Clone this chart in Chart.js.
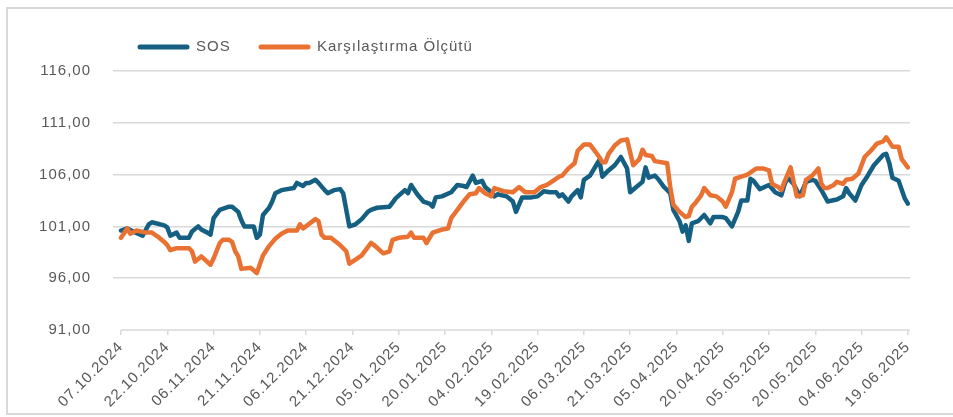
<!DOCTYPE html>
<html>
<head>
<meta charset="utf-8">
<script src="https://cdn.jsdelivr.net/npm/chart.js@4.4.1/dist/chart.umd.min.js"></script>
<style>
  html, body { margin: 0; padding: 0; background: #fff; }
  canvas { display: block; }
</style>
</head>
<body>
<canvas id="chart" width="953" height="417"></canvas>
<script>
// x axis labels, one every 15 days starting 07.10.2024
const tickLabels = ['07.10.2024', '22.10.2024', '06.11.2024', '21.11.2024', '06.12.2024', '21.12.2024',
  '05.01.2025', '20.01.2025', '04.02.2025', '19.02.2025', '06.03.2025', '21.03.2025',
  '05.04.2025', '20.04.2025', '05.05.2025', '20.05.2025', '04.06.2025', '19.06.2025'];

const seriesNames = ['SOS', 'Karşılaştırma Ölçütü'];

// days since 07.10.2024
const sosDays = [0, 2, 4, 7, 9, 10, 14, 15, 16, 18, 19, 22, 23, 25, 26, 28, 29, 30, 32, 35, 36, 38, 39, 40, 43, 44, 45, 46, 48, 49,
  50, 52, 56, 57, 59, 60, 61, 63, 64, 66, 67, 69, 71, 72, 74, 76, 78, 80, 81, 83, 87, 88, 89, 92, 93, 94, 96, 98, 100, 101,
  102, 104, 107, 109, 111, 112, 114, 115, 117, 118, 120, 121, 122, 125, 127, 128, 130, 133, 135, 137, 139, 141, 142, 143, 145, 146, 148, 149, 150, 152,
  154, 155, 156, 158, 160, 162, 164, 165, 167, 169, 170, 171, 173, 174, 176, 178, 179, 181, 182, 183, 184, 185, 187, 189, 191, 192, 195, 196, 198, 200,
  201, 203, 204, 205, 207, 210, 212, 214, 215, 216, 218, 220, 222, 224, 225, 227, 229, 232, 234, 235, 236, 238, 240, 242, 244, 247, 248, 249, 250, 252,
  254, 255];
const sosValues = [100.6, 100.8, 100.5, 100.1, 101.2, 101.4, 101.1, 100.9, 100.1, 100.4, 99.9, 99.9, 100.5, 101.0, 100.7, 100.4, 100.2, 101.8, 102.6, 102.9, 102.9, 102.4, 101.6, 101.0, 101.0, 99.9, 100.2, 102.1, 102.8, 103.4,
  104.2, 104.5, 104.7, 105.2, 104.9, 105.2, 105.2, 105.5, 105.2, 104.5, 104.2, 104.5, 104.6, 104.2, 101.0, 101.2, 101.7, 102.4, 102.6, 102.8, 102.9, 103.3, 103.7, 104.5, 104.2, 105.0, 104.1, 103.4, 103.2, 102.9,
  103.8, 103.9, 104.3, 105.0, 104.9, 104.8, 105.9, 105.2, 105.4, 104.8, 104.3, 103.9, 104.1, 103.9, 103.4, 102.4, 103.8, 103.8, 103.9, 104.4, 104.3, 104.3, 103.9, 104.1, 103.4, 103.9, 104.5, 103.8, 105.5, 105.9,
  106.9, 107.4, 105.8, 106.4, 106.9, 107.7, 106.6, 104.3, 104.8, 105.3, 106.7, 105.7, 105.9, 105.6, 104.8, 104.2, 102.6, 101.5, 100.5, 101.1, 99.6, 101.3, 101.5, 102.1, 101.3, 101.9, 101.9, 101.8, 101.0, 102.4,
  103.5, 103.5, 105.6, 105.4, 104.6, 105.0, 104.3, 104.0, 105.0, 105.7, 105.1, 103.9, 105.3, 105.5, 105.4, 104.5, 103.4, 103.6, 103.9, 104.7, 104.2, 103.5, 105.0, 105.9, 106.9, 107.9, 108.0, 107.1, 105.7, 105.4,
  103.7, 103.2];

const benchDays = [0, 2, 3, 5, 8, 10, 12, 14, 15, 16, 18, 22, 23, 24, 26, 29, 30, 32, 33, 35, 36, 37, 38, 39, 42, 44, 46, 48, 50, 52,
  54, 57, 58, 59, 63, 64, 65, 66, 68, 71, 73, 74, 76, 78, 80, 81, 82, 85, 87, 88, 90, 93, 94, 95, 98, 99, 101, 104, 106, 107,
  109, 111, 113, 115, 116, 118, 120, 121, 124, 127, 129, 131, 134, 136, 138, 140, 142, 143, 145, 147, 148, 150, 152, 153, 155, 156, 157, 158, 160, 162,
  164, 166, 168, 169, 170, 172, 173, 177, 178, 179, 181, 183, 184, 185, 186, 188, 189, 191, 193, 195, 196, 198, 199, 201, 203, 205, 206, 208, 210, 211,
  213, 214, 215, 217, 219, 221, 222, 224, 226, 227, 228, 229, 231, 232, 234, 235, 237, 239, 241, 243, 245, 247, 248, 250, 252, 253, 255];
const benchValues = [99.9, 100.8, 100.3, 100.6, 100.4, 100.4, 100.0, 99.5, 99.2, 98.7, 98.9, 98.9, 98.6, 97.6, 98.1, 97.3, 97.9, 99.4, 99.7, 99.7, 99.5, 98.6, 98.1, 96.9, 97.0, 96.5, 98.2, 99.1, 99.8, 100.3,
  100.6, 100.6, 101.2, 100.8, 101.7, 101.5, 100.2, 99.9, 99.9, 99.2, 98.6, 97.4, 97.8, 98.2, 99.0, 99.4, 99.2, 98.4, 98.6, 99.7, 99.9, 100.0, 100.4, 99.9, 99.9, 99.4, 100.4, 100.7, 100.8, 101.8,
  102.6, 103.4, 104.1, 104.2, 104.7, 104.2, 103.9, 104.7, 104.4, 104.3, 104.8, 104.3, 104.3, 104.8, 105.0, 105.4, 105.8, 105.9, 106.6, 107.1, 108.3, 108.9, 108.9, 108.5, 107.7, 107.2, 107.2, 108.0, 108.8, 109.3,
  109.4, 106.9, 107.5, 108.4, 107.9, 107.8, 107.3, 107.1, 104.8, 103.1, 102.4, 101.9, 102.0, 102.9, 103.2, 104.0, 104.7, 104.0, 103.9, 103.4, 102.9, 104.3, 105.6, 105.8, 106.0, 106.4, 106.6, 106.6, 106.4, 105.1,
  104.8, 104.5, 105.3, 106.7, 103.9, 104.0, 105.5, 105.9, 106.6, 105.1, 104.7, 104.7, 105.0, 105.3, 105.1, 105.5, 105.6, 106.1, 107.7, 108.3, 109.0, 109.2, 109.6, 108.7, 108.7, 107.5, 106.7];

const colors = ['#156082', '#E97132'];
const textColor = '#595959';
const gridColor = '#d9d9d9';
const font = { family: '"Liberation Sans", Arial, sans-serif', size: 15 };

const toPoints = (days, values) => days.map((d, i) => ({ x: d, y: values[i] }));

// excel-like spacing between letters
const spacingPlugin = {
  id: 'spacing',
  beforeUpdate: (chart) => { chart.ctx.letterSpacing = '1px'; },
  beforeDraw: (chart) => { chart.ctx.letterSpacing = '1px'; },
};

const framePlugin = {
  id: 'frame',
  beforeDatasetsDraw: (chart) => {
    // bottom axis line starts at the first date, like the original
    const ctx = chart.ctx;
    const x = chart.scales.x;
    const y = chart.scales.y.getPixelForValue(91);
    ctx.save();
    ctx.strokeStyle = gridColor;
    ctx.lineWidth = 1.5;
    ctx.beginPath();
    ctx.moveTo(x.getPixelForValue(0), y);
    ctx.lineTo(chart.chartArea.right, y);
    ctx.stroke();
    ctx.restore();
  },
  afterDraw: (chart) => {
    const ctx = chart.ctx;
    ctx.save();
    ctx.strokeStyle = gridColor;
    ctx.lineWidth = 2;
    ctx.strokeRect(7, 8, 960, 406);

    // legend
    ctx.font = '15px "Liberation Sans", Arial, sans-serif';
    ctx.letterSpacing = '1px';
    ctx.textBaseline = 'middle';
    ctx.lineCap = 'round';
    ctx.lineWidth = 5;
    const legendX = [140, 261];
    seriesNames.forEach((name, i) => {
      ctx.strokeStyle = colors[i];
      ctx.beginPath();
      ctx.moveTo(legendX[i], 47);
      ctx.lineTo(legendX[i] + 47, 47);
      ctx.stroke();
      ctx.fillStyle = textColor;
      ctx.fillText(name, legendX[i] + 56, 47);
    });
    ctx.restore();
  },
};

new Chart(document.getElementById('chart'), {
  type: 'line',
  data: {
    datasets: [
      {
        label: seriesNames[0],
        data: toPoints(sosDays, sosValues),
        borderColor: colors[0],
        backgroundColor: colors[0],
        order: 1,
      },
      {
        label: seriesNames[1],
        data: toPoints(benchDays, benchValues),
        borderColor: colors[1],
        backgroundColor: colors[1],
        order: 0,
      },
    ],
  },
  options: {
    responsive: false,
    animation: false,
    devicePixelRatio: 1,
    layout: { padding: { top: 71, right: 43, left: 0, bottom: 0 } },
    elements: {
      line: { borderWidth: 4.5, tension: 0, borderJoinStyle: 'round', borderCapStyle: 'round' },
      point: { radius: 0, hoverRadius: 0 },
    },
    plugins: {
      legend: { display: false },
      tooltip: { enabled: false },
    },
    scales: {
      x: {
        type: 'linear',
        min: -2.6,
        max: 255.7,
        afterBuildTicks: (scale) => {
          scale.ticks = tickLabels.map((_, i) => ({ value: i * 15 }));
        },
        afterFit: (scale) => { scale.height = 87; },
        ticks: {
          autoSkip: false,
          maxRotation: 45,
          minRotation: 45,
          padding: 3,
          color: textColor,
          font: font,
          callback: (value, index) => tickLabels[index],
        },
        grid: { drawOnChartArea: false, drawTicks: true, tickLength: 5, color: gridColor, lineWidth: 1.5 },
        border: { display: false },
      },
      y: {
        min: 91,
        max: 116,
        afterFit: (scale) => { scale.width = 113; },
        ticks: {
          stepSize: 5,
          padding: 22,
          color: textColor,
          font: font,
          callback: (value) => value.toFixed(2).replace('.', ','),
        },
        grid: {
          color: (c) => (c.tick && c.tick.value === 91 ? 'rgba(0,0,0,0)' : gridColor),
          lineWidth: 1.5,
          drawTicks: false,
        },
        border: { display: false },
      },
    },
  },
  plugins: [spacingPlugin, framePlugin],
});
</script>
</body>
</html>
